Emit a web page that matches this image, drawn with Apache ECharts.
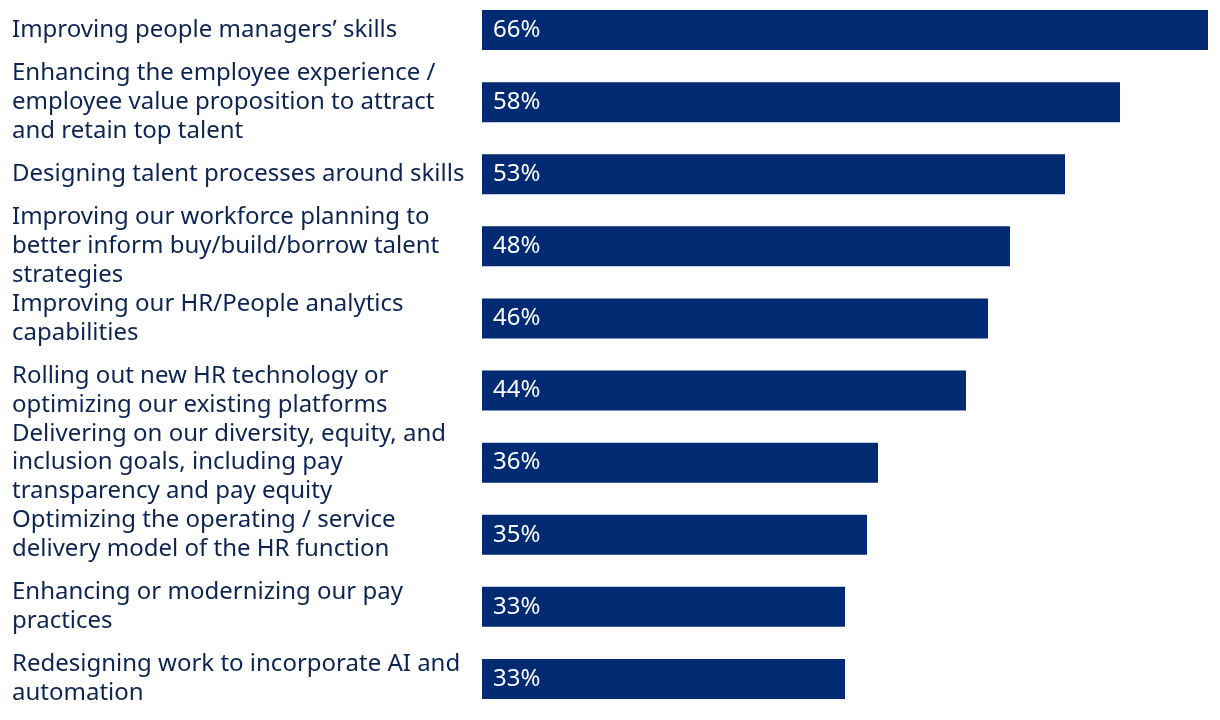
<!DOCTYPE html>
<html>
<head>
<meta charset="utf-8">
<script src="https://cdn.jsdelivr.net/npm/echarts@6/dist/echarts.min.js"></script>
<style>
html,body{margin:0;padding:0;background:#fff;overflow:hidden;}
#chart{width:1220px;height:726px;margin-top:-6px;}
</style>
</head>
<body>
<div id="chart"></div>
<script>
const categories = [
  "Improving people managers\u2019 skills",
  "Enhancing the employee experience /\nemployee value proposition to attract\nand retain top talent",
  "Designing talent processes around skills",
  "Improving our workforce planning to\nbetter inform buy/build/borrow talent\nstrategies",
  "Improving our HR/People analytics\ncapabilities",
  "Rolling out new HR technology or\noptimizing our existing platforms",
  "Delivering on our diversity, equity, and\ninclusion goals, including pay\ntransparency and pay equity",
  "Optimizing the operating / service\ndelivery model of the HR function",
  "Enhancing or modernizing our pay\npractices",
  "Redesigning work to incorporate AI and\nautomation"
];
const values = [66, 58, 53, 48, 46, 44, 36, 35, 33, 33];

const chart = echarts.init(document.getElementById('chart'));
chart.setOption({
  animation: false,
  grid: { left: 482, width: 726, top: 0, height: 721, containLabel: false },
  xAxis: {
    type: 'value', min: 0, max: 66,
    show: false
  },
  yAxis: {
    type: 'category',
    inverse: true,
    data: categories,
    axisLine: { show: false },
    axisTick: { show: false },
    splitLine: { show: false },
    axisLabel: {
      align: 'left',
      margin: 470,
      color: '#0d2452',
      fontFamily: '"Noto Sans", sans-serif',
      fontSize: 24,
      lineHeight: 28.7
    }
  },
  series: [{
    type: 'bar',
    data: values,
    barWidth: 40,
    itemStyle: { color: '#002b73' },
    label: {
      show: true,
      position: 'insideLeft',
      distance: 11,
      color: '#ffffff',
      fontFamily: '"Noto Sans", sans-serif',
      fontSize: 24,
      formatter: '{c}%'
    }
  }]
});
</script>
</body>
</html>
